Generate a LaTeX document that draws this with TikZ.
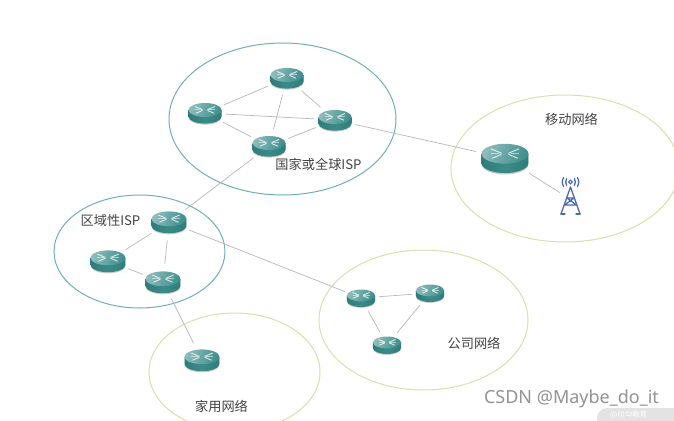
\documentclass[tikz,border=0pt]{standalone}
\usepackage{fontspec}
\setmainfont{Noto Sans CJK SC}
\newfontfamily\wmfont{Noto Sans}
\usetikzlibrary{shapes.geometric}
\definecolor{tealring}{HTML}{6FAFBA}
\definecolor{greenring}{HTML}{D9E0A8}
\definecolor{linkgrey}{HTML}{B8B8B8}
\definecolor{rbody}{HTML}{3B8B89}
\definecolor{rdark}{HTML}{2F7D7B}
\definecolor{rtop}{HTML}{3F8F8E}
\definecolor{txt}{HTML}{444444}
\definecolor{towerblue}{HTML}{4A68B4}
\tikzset{
  x=1pt,y=-1pt,
  ring/.style={line width=1pt,fill=none},
  isp/.style={ring,draw=tealring},
  net/.style={ring,draw=greenring},
  link/.style={draw=linkgrey,line width=0.7pt},
  anchorbox/.style={ellipse,inner sep=0pt,outer sep=0pt,minimum width=#1*1.28pt,minimum height=#1*1.05pt},
  label/.style={font=\fontsize{13.2}{15}\selectfont,text=txt,inner sep=0pt},
  routerpic/.pic={
    \fill[gray!40] (-16.5,-3) -- (-16.5,4.6) arc[start angle=180,end angle=0,x radius=16.5,y radius=7] -- (16.5,-3) -- cycle;
    \shade[left color=rdark,right color=rdark,middle color=rbody] (-16.5,-3) -- (-16.5,3.6) arc[start angle=180,end angle=0,x radius=16.5,y radius=7] -- (16.5,-3) -- cycle;
    \shade[left color=rtop!60!white,right color=rtop,shading angle=65] (0,-3) ellipse[x radius=16.5,y radius=7];
    \draw[white,line width=0.9pt,opacity=.8] (-10,-6.5) -- (-2.5,-3.4) (10,-6.5) -- (2.5,-3.4) (-2.5,-2.6) -- (-9,0.2) (2.5,-2.6) -- (9,0.2);
    \draw[white,line width=0.7pt,opacity=.55] (-10,-3.2) -- (-4,-3.2) (10,-3.2) -- (4,-3.2);
  }
}
\begin{document}
\begin{tikzpicture}
\useasboundingbox (0,0) rectangle (674,420);
\fill[white] (0,0) rectangle (674,420);
\clip (0,0) rectangle (674,420);

\node[isp,ellipse,minimum width=227pt,minimum height=152pt,inner sep=0pt] (ringisp) at (282.5,119) {};
\node[isp,ellipse,minimum width=171pt,minimum height=113pt,inner sep=0pt] (ringreg) at (139.5,251.5) {};
\node[net,ellipse,minimum width=209pt,minimum height=140pt,inner sep=0pt] (ringcom) at (423.5,320) {};
\node[net,ellipse,minimum width=171pt,minimum height=118pt,inner sep=0pt] (ringhome) at (234.5,372) {};
\node[net,ellipse,minimum width=228pt,minimum height=147pt,inner sep=0pt] (ringmob) at (565,168.5) {};

\node[anchorbox=33] (a1) at (287,78) {};
\node[anchorbox=33] (a2) at (205,113) {};
\node[anchorbox=33] (a3) at (335,120) {};
\node[anchorbox=33] (a4) at (269,146) {};
\node[anchorbox=35] (b1) at (169,222) {};
\node[anchorbox=35] (b2) at (108,261) {};
\node[anchorbox=35] (b3) at (163,282) {};
\node[anchorbox=28] (c1) at (361,298) {};
\node[anchorbox=28] (c2) at (430,293) {};
\node[anchorbox=28] (c3) at (387,345) {};
\node[anchorbox=35] (h1) at (202,360) {};
\node[anchorbox=47] (m1) at (505,158) {};
\node[inner sep=0pt,minimum width=20pt,minimum height=14pt] (tower) at (570,199) {};

\path[link] (a1) edge (a2) (a1) edge (a3) (a1) edge (a4) (a2) edge (a3) (a2) edge (a4) (a3) edge (a4)
  (a3) edge (m1) (a4) edge (b1) (b1) edge (b2) (b1) edge (b3) (b2) edge (b3) (b3) edge (h1)
  (b1) edge (c1) (c1) edge (c2) (c1) edge (c3) (c2) edge (c3) (m1) edge (tower);

\foreach \n/\s in {a1/1,a2/1,a3/1,a4/1,b1/1.06,b2/1.06,b3/1.06,c1/.85,c2/.85,c3/.85,h1/1.06,m1/1.42}
  \pic[scale=\s] at (\n) {routerpic};

% tower
\begin{scope}[towerblue,line width=1.3pt,line cap=round]
  \draw (570.5,187) -- (561,214) (570.5,187) -- (580,214);
  \draw (561,214) -- (565,214) (576,214) -- (580,214);
  \draw (567,198) -- (574,198) (564.5,205) -- (576.5,205) (574,198) -- (564.5,205) (567,198) -- (576.5,205);
  \draw[line width=1.1pt] (570.5,182) circle[radius=1.8];
  \draw (566.6,178.6) .. controls (565.4,180.8) and (565.4,183.2) .. (566.6,185.4);
  \draw (574.4,178.6) .. controls (575.6,180.8) and (575.6,183.2) .. (574.4,185.4);
  \draw (563.6,177.6) .. controls (561.8,180.8) and (561.8,183.2) .. (563.6,186.4);
  \draw (577.4,177.6) .. controls (579.2,180.8) and (579.2,183.2) .. (577.4,186.4);
\end{scope}

\node[label] (t1) at (318.5,164) {国家或全球ISP};
\node[label] (t2) at (110.5,220) {区域性ISP};
\node[label] (t3) at (571.5,119) {移动网络};
\node[label] (t4) at (474,343) {公司网络};
\node[label] (t5) at (221.5,406) {家用网络};

\fill[gray!22,rounded corners=10pt] (597,408) rectangle (690,440);
\node[font=\fontsize{7.5}{8}\selectfont,text=white,inner sep=0pt,anchor=west] (wm2) at (610,414.5) {@拉勾教育};
\node[font=\wmfont\fontsize{18}{22}\selectfont,text=gray!85,inner sep=0pt] (wm) at (571.5,399) {CSDN @Maybe\_do\_it};
\end{tikzpicture}
\end{document}
